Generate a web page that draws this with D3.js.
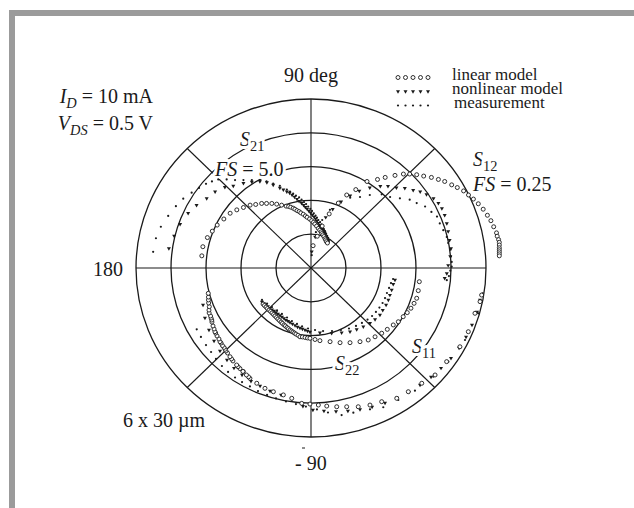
<!DOCTYPE html>
<html>
<head>
<meta charset="utf-8">
<script src="https://cdn.jsdelivr.net/npm/d3@7"></script>
<style>
  body { margin: 0; background: #fff; }
  text { font-family: "Liberation Serif", "Times New Roman", serif; fill: #1a1a1a; }
</style>
</head>
<body>
<svg id="chart" width="634" height="508"></svg>
<script>
// Polar grid: rings as fractions of full scale, spokes in degrees
const ringFractions = [0.2, 0.4, 0.6, 0.8, 1.0];
const spokeAngles = [0, 45, 90, 135, 180, 225, 270, 315];

// Full-scale magnitude of each parameter on the chart
const fullScale = { S11: 1, S22: 1, S21: 5, S12: 0.25 };

// S-parameters as [real, imaginary] pairs
const s11Linear = [
  [0.975,-0.160],[0.966,-0.199],[0.937,-0.268],[0.899,-0.377],[0.851,-0.466],[0.775,-0.554],
  [0.709,-0.633],[0.633,-0.682],[0.556,-0.732],[0.490,-0.771],[0.404,-0.791],[0.337,-0.811],
  [0.270,-0.821],[0.204,-0.821],[0.147,-0.821],[0.090,-0.817],[0.042,-0.811],[-0.006,-0.805],
  [-0.053,-0.801],[-0.110,-0.771],[-0.158,-0.751],[-0.215,-0.732],[-0.263,-0.712],[-0.310,-0.682],
  [-0.349,-0.653],[-0.357,-0.644],[-0.369,-0.633],[-0.387,-0.613],[-0.389,-0.612],[-0.406,-0.595],
  [-0.417,-0.584],[-0.425,-0.574],[-0.446,-0.550],[-0.454,-0.538],[-0.463,-0.525],[-0.477,-0.503],
  [-0.486,-0.491],[-0.491,-0.481],[-0.497,-0.470],[-0.506,-0.459],[-0.514,-0.444],[-0.520,-0.436],
  [-0.526,-0.420],[-0.537,-0.402],[-0.545,-0.385],[-0.549,-0.377],[-0.554,-0.361],[-0.560,-0.343],
  [-0.566,-0.320],[-0.567,-0.308],[-0.571,-0.296],[-0.574,-0.284],[-0.582,-0.266],[-0.583,-0.249],
  [-0.581,-0.229],[-0.585,-0.207],[-0.586,-0.189],[-0.586,-0.172],[-0.587,-0.150]
];
const s11Nonlinear = [
  [-0.617,-0.219],[-0.606,-0.296],[-0.583,-0.367],[-0.554,-0.432],[-0.520,-0.491],[-0.480,-0.544],
  [-0.440,-0.592],[-0.394,-0.633],[-0.343,-0.669],[-0.291,-0.698],[-0.234,-0.728],[-0.171,-0.751],
  [-0.109,-0.775],[-0.046,-0.817],[0.011,-0.840],[0.074,-0.846],[0.143,-0.849],[0.211,-0.846],
  [0.280,-0.837],[0.349,-0.822],[0.423,-0.799],[0.491,-0.769],[0.560,-0.734],[0.623,-0.692],
  [0.686,-0.645],[0.743,-0.592],[0.800,-0.533],[0.846,-0.473],[0.886,-0.408],[0.920,-0.337],
  [0.949,-0.260],[0.966,-0.189]
];
const s11Measured = [
  [-0.653,-0.363],[-0.629,-0.408],[-0.600,-0.456],[-0.571,-0.497],[-0.543,-0.538],[-0.509,-0.580],
  [-0.474,-0.615],[-0.434,-0.648],[-0.394,-0.675],[-0.349,-0.701],[-0.303,-0.728],[-0.251,-0.751],
  [-0.200,-0.772],[-0.143,-0.790],[-0.086,-0.805],[-0.029,-0.820],[0.034,-0.837],[0.097,-0.855],
  [0.175,-0.870],[0.242,-0.856],[0.337,-0.836],[0.413,-0.824],[0.499,-0.781],[0.594,-0.726],
  [0.699,-0.643],[0.785,-0.554],[0.880,-0.426],[0.956,-0.268],[0.981,-0.150]
];

const s21Linear = [
  [-3.12,0.36],[-3.09,0.63],[-2.96,0.90],[-2.82,1.09],[-2.68,1.27],[-2.49,1.45],[-2.31,1.62],
  [-2.12,1.72],[-1.93,1.79],[-1.74,1.86],[-1.58,1.88],[-1.41,1.91],[-1.27,1.91],[-1.12,1.91],
  [-0.98,1.89],[-0.84,1.86],[-0.71,1.83],[-0.64,1.82],[-0.58,1.80],[-0.51,1.77],[-0.46,1.74],
  [-0.40,1.70],[-0.34,1.67],[-0.29,1.63],[-0.22,1.59],[-0.16,1.54],[-0.11,1.50],[-0.04,1.45],
  [0.02,1.40],[0.07,1.35],[0.11,1.30],[0.16,1.24],[0.21,1.17],[0.25,1.12],[0.29,1.07],[0.31,1.02],
  [0.34,0.98],[0.37,0.93],[0.40,0.87],[0.42,0.83],[0.44,0.78],[0.47,0.74]
];
const s21Nonlinear = [
  [-4.06,0.58],[-3.91,0.95],[-3.74,1.30],[-3.51,1.62],[-3.27,1.86],[-2.98,2.06],[-2.74,2.26],
  [-2.46,2.39],[-2.22,2.43],[-1.93,2.51],[-1.69,2.55],[-1.46,2.56],[-1.26,2.53],[-1.08,2.46],
  [-0.89,2.37],[-0.79,2.32],[-0.69,2.26],[-0.61,2.22],[-0.54,2.16],[-0.47,2.10],[-0.40,2.04],
  [-0.34,1.98],[-0.27,1.92],[-0.21,1.86],[-0.16,1.80],[-0.11,1.75],[-0.06,1.69],[-0.01,1.63],
  [0.04,1.57],[0.09,1.51],[0.13,1.45],[0.17,1.39],[0.21,1.33],[0.26,1.27],[0.29,1.21],[0.32,1.15],
  [0.36,1.09],[0.39,1.04],[0.41,0.98],[0.44,0.92],[0.46,0.86],[0.49,0.80]
];
const s21Measured = [
  [-4.51,0.48],[-4.43,0.88],[-4.29,1.22],[-4.08,1.54],[-3.86,1.83],[-3.65,2.05],[-3.41,2.23],
  [-3.20,2.37],[-3.00,2.49],[-2.83,2.56],[-2.65,2.62],[-2.41,2.62],[-2.17,2.60],[-1.93,2.60],
  [-1.69,2.60],[-1.46,2.59],[-1.27,2.56],[-1.08,2.50],[-0.89,2.43],[-0.69,2.32],[-0.60,2.26],
  [-0.51,2.20],[-0.43,2.14],[-0.34,2.09],[-0.27,2.02],[-0.20,1.95],[-0.14,1.89],[-0.08,1.82],
  [-0.02,1.75],[0.03,1.69],[0.08,1.62],[0.13,1.55],[0.17,1.49],[0.21,1.42],[0.26,1.36],[0.30,1.29],
  [0.34,1.22],[0.37,1.15],[0.40,1.09],[0.43,1.02],[0.46,0.95],[0.49,0.89],[0.50,0.83],[0.51,0.77]
];

const s12Linear = [
  [0.003,0.033],[0.009,0.047],[0.016,0.062],[0.026,0.080],[0.039,0.096],[0.051,0.108],[0.064,0.116],
  [0.080,0.128],[0.095,0.131],[0.106,0.134],[0.120,0.137],[0.132,0.139],[0.141,0.139],[0.151,0.138],
  [0.161,0.136],[0.172,0.134],[0.182,0.131],[0.191,0.128],[0.201,0.123],[0.209,0.119],[0.218,0.114],
  [0.225,0.108],[0.232,0.102],[0.239,0.095],[0.246,0.087],[0.252,0.078],[0.257,0.070],[0.261,0.061],
  [0.265,0.052],[0.266,0.047],[0.268,0.042],[0.269,0.038],[0.269,0.034],[0.269,0.030],[0.269,0.027],
  [0.269,0.024],[0.269,0.021],[0.269,0.018]
];
const s12Nonlinear = [
  [0.001,0.024],[0.006,0.046],[0.013,0.062],[0.021,0.075],[0.031,0.087],[0.043,0.098],[0.056,0.107],
  [0.069,0.114],[0.084,0.119],[0.099,0.121],[0.110,0.121],[0.122,0.119],[0.134,0.118],[0.146,0.115],
  [0.156,0.113],[0.165,0.109],[0.175,0.103],[0.182,0.096],[0.187,0.088],[0.191,0.078],[0.194,0.066],
  [0.196,0.054],[0.198,0.041],[0.200,0.029],[0.199,0.017],[0.196,0.004],[0.194,-0.008],[0.191,-0.015]
];
const s12Measured = [
  [0.001,0.019],[0.003,0.034],[0.007,0.053],[0.016,0.071],[0.027,0.086],[0.041,0.098],[0.056,0.104],
  [0.070,0.105],[0.084,0.108],[0.101,0.109],[0.113,0.105],[0.127,0.103],[0.141,0.101],[0.151,0.096],
  [0.163,0.091],[0.172,0.083],[0.180,0.076],[0.184,0.066],[0.189,0.056],[0.194,0.046],[0.196,0.037],
  [0.199,0.027],[0.200,0.017],[0.201,0.009],[0.201,0.002],[0.199,-0.004],[0.197,-0.012],[0.194,-0.018]
];

const s22Linear = [
  [-0.274,-0.213],[-0.266,-0.222],[-0.257,-0.231],[-0.249,-0.240],[-0.240,-0.249],[-0.231,-0.257],
  [-0.223,-0.266],[-0.214,-0.275],[-0.206,-0.284],[-0.197,-0.293],[-0.189,-0.302],[-0.180,-0.311],
  [-0.171,-0.320],[-0.163,-0.328],[-0.154,-0.337],[-0.146,-0.343],[-0.137,-0.352],[-0.129,-0.359],
  [-0.120,-0.367],[-0.111,-0.373],[-0.103,-0.379],[-0.094,-0.385],[-0.086,-0.391],[-0.074,-0.398],
  [-0.063,-0.407],[-0.049,-0.408],[-0.034,-0.411],[-0.020,-0.414],[-0.006,-0.416],[0.023,-0.423],
  [0.051,-0.430],[0.109,-0.436],[0.166,-0.442],[0.223,-0.442],[0.280,-0.436],[0.327,-0.426],
  [0.366,-0.407],[0.404,-0.386],[0.436,-0.363],[0.470,-0.337],[0.499,-0.318],[0.527,-0.288],
  [0.550,-0.264],[0.571,-0.238],[0.589,-0.209],[0.604,-0.179],[0.613,-0.134],[0.619,-0.081]
];
const s22Nonlinear = [
  [-0.280,-0.201],[-0.269,-0.210],[-0.257,-0.219],[-0.246,-0.228],[-0.234,-0.237],[-0.223,-0.246],
  [-0.211,-0.254],[-0.200,-0.263],[-0.189,-0.272],[-0.177,-0.281],[-0.166,-0.290],[-0.154,-0.299],
  [-0.143,-0.308],[-0.131,-0.315],[-0.120,-0.322],[-0.106,-0.331],[-0.091,-0.340],[-0.077,-0.348],
  [-0.063,-0.355],[-0.049,-0.361],[-0.034,-0.367],[-0.020,-0.373],[-0.006,-0.378],[0.051,-0.383],
  [0.118,-0.386],[0.175,-0.383],[0.223,-0.377],[0.261,-0.363],[0.299,-0.347],[0.337,-0.327],
  [0.366,-0.304],[0.394,-0.278],[0.410,-0.249],[0.429,-0.219],[0.442,-0.189],[0.451,-0.160],
  [0.461,-0.130],[0.470,-0.095],[0.480,-0.071]
];
const s22Measured = [
  [-0.280,-0.189],[-0.251,-0.210],[-0.223,-0.231],[-0.194,-0.251],[-0.166,-0.272],[-0.137,-0.293],
  [-0.109,-0.314],[-0.080,-0.331],[-0.051,-0.346],[-0.017,-0.358],[0.023,-0.367],[0.069,-0.373],
  [0.120,-0.373],[0.171,-0.367],[0.217,-0.358],[0.257,-0.343],[0.291,-0.325],[0.323,-0.305],
  [0.349,-0.284],[0.371,-0.260],[0.391,-0.234],[0.409,-0.207],[0.423,-0.178],[0.434,-0.148],
  [0.446,-0.118],[0.457,-0.089],[0.469,-0.065]
];

const legendLabels = ["linear model", "nonlinear model", "measurement"];

const svg = d3.select("#chart");

// Chart-unit scales (normalised to full scale = 1)
const gx = d3.scaleLinear().domain([-1, 1]).range([136, 486]);
const gy = d3.scaleLinear().domain([-1, 1]).range([437, 99]);
const cx = gx(0), cy = gy(0);
const rx = gx(1) - cx, ry = cy - gy(1);

// Page frame
svg.append("rect").attr("x", 9).attr("y", 10).attr("width", 625).attr("height", 6).attr("fill", "#9b9b9b");
svg.append("rect").attr("x", 9).attr("y", 10).attr("width", 6).attr("height", 498).attr("fill", "#9b9b9b");

const grid = svg.append("g").attr("fill", "none").attr("stroke", "#1a1a1a");
grid.selectAll("ellipse").data(ringFractions).join("ellipse")
  .attr("cx", cx).attr("cy", cy)
  .attr("rx", f => rx * f).attr("ry", f => ry * f)
  .attr("stroke-width", 1.3);
grid.selectAll("line").data(spokeAngles).join("line")
  .attr("x1", cx).attr("y1", cy)
  .attr("x2", a => gx(Math.cos(a * Math.PI / 180)))
  .attr("y2", a => gy(Math.sin(a * Math.PI / 180)))
  .attr("stroke-width", 1.1);

// Small tick mark below the -90 deg spoke
svg.append("line").attr("x1", cx - 9).attr("x2", cx - 6)
  .attr("y1", gy(-1) + 11).attr("y2", gy(-1) + 11)
  .attr("stroke", "#1a1a1a").attr("stroke-width", 1);

// Text helpers
function label(x, y, parts, opts = {}) {
  const size = opts.size || 20;
  const t = svg.append("text").attr("x", x).attr("y", y)
    .attr("font-size", size)
    .attr("text-anchor", opts.anchor || "start");
  if (opts.halo) {
    t.attr("stroke", "#fff").attr("stroke-width", 6).attr("paint-order", "stroke")
      .attr("stroke-linejoin", "round");
  }
  parts.forEach(p => {
    const s = t.append("tspan").text(p.t);
    if (p.i) s.attr("font-style", "italic");
    if (p.sub) s.attr("font-size", size * 0.72).attr("dy", 5);
    if (p.up) s.attr("dy", -5);
  });
  return t;
}

label(cx, 82, [{ t: "90 deg" }], { anchor: "middle" });
label(123, 276, [{ t: "180" }], { anchor: "end" });
label(295, 470, [{ t: "- 90" }]);
label(153, 103, [{ t: "I", i: 1 }, { t: "D", i: 1, sub: 1 }, { t: " = 10 mA", up: 1 }], { anchor: "end" });
label(153, 130, [{ t: "V", i: 1 }, { t: "DS", i: 1, sub: 1 }, { t: " = 0.5 V", up: 1 }], { anchor: "end" });
label(123, 427, [{ t: "6 x 30 µm" }]);

label(240, 146, [{ t: "S", i: 1 }, { t: "21", sub: 1 }], { halo: 1 });
label(215, 176, [{ t: "FS", i: 1 }, { t: " = 5.0" }], { halo: 1 });
label(473, 166, [{ t: "S", i: 1 }, { t: "12", sub: 1 }], { halo: 1 });
label(473, 191, [{ t: "FS", i: 1 }, { t: " = 0.25" }], { halo: 1 });
label(412, 353, [{ t: "S", i: 1 }, { t: "11", sub: 1 }], { halo: 1 });
label(335, 370, [{ t: "S", i: 1 }, { t: "22", sub: 1 }], { halo: 1 });

// Marker drawing
const tri = d3.symbol().type(d3.symbolTriangle).size(7);
function drawSeries(data, key, kind) {
  const fs = fullScale[key];
  const x = d3.scaleLinear().domain([-fs, fs]).range(gx.range());
  const y = d3.scaleLinear().domain([-fs, fs]).range(gy.range());
  drawMarkers(svg.append("g"), data.map(d => [x(d[0]), y(d[1])]), kind);
}
function drawMarkers(g, pts, kind) {
  if (kind === "linear") {
    g.selectAll("circle").data(pts).join("circle")
      .attr("cx", d => d[0]).attr("cy", d => d[1]).attr("r", 2)
      .attr("fill", "#fff").attr("stroke", "#1a1a1a").attr("stroke-width", 0.9);
  } else if (kind === "nonlinear") {
    g.selectAll("path").data(pts).join("path")
      .attr("d", tri).attr("transform", d => `translate(${d[0]},${d[1]}) rotate(180)`)
      .attr("fill", "#1a1a1a");
  } else {
    g.selectAll("circle").data(pts).join("circle")
      .attr("cx", d => d[0]).attr("cy", d => d[1]).attr("r", 1.1)
      .attr("fill", "#1a1a1a");
  }
}

const series = [
  [s11Measured, "S11", "measured"], [s11Nonlinear, "S11", "nonlinear"], [s11Linear, "S11", "linear"],
  [s22Measured, "S22", "measured"], [s22Nonlinear, "S22", "nonlinear"], [s22Linear, "S22", "linear"],
  [s21Measured, "S21", "measured"], [s21Nonlinear, "S21", "nonlinear"], [s21Linear, "S21", "linear"],
  [s12Measured, "S12", "measured"], [s12Nonlinear, "S12", "nonlinear"], [s12Linear, "S12", "linear"]
];
series.forEach(([d, k, kind]) => drawSeries(d, k, kind));

// Legend
const legendKinds = ["linear", "nonlinear", "measured"];
const legendY = [80, 94, 108];
const legendX = d3.range(5).map(i => 398 + i * 7.5);
legendLabels.forEach((name, i) => {
  drawMarkers(svg.append("g"), legendX.map(x => [x, legendY[i] - 2.5]), legendKinds[i]);
  label(i === 2 ? 454 : 452, legendY[i], [{ t: name }], { size: 17 });
});
</script>
</body>
</html>
